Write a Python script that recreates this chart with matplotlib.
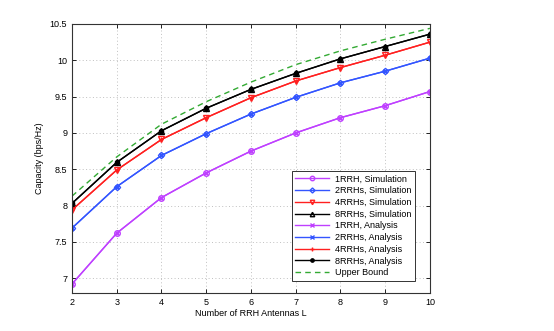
import matplotlib.pyplot as plt

L = [2, 3, 4, 5, 6, 7, 8, 9, 10]

cap_1rrh = [6.92, 7.62, 8.11, 8.45, 8.75, 9.00, 9.21, 9.375, 9.57]
cap_2rrh = [7.69, 8.26, 8.69, 8.99, 9.26, 9.49, 9.69, 9.85, 10.03]
cap_4rrh = [7.94, 8.49, 8.91, 9.21, 9.485, 9.715, 9.90, 10.07, 10.25]
cap_8rrh = [8.03, 8.595, 9.03, 9.34, 9.60, 9.82, 10.02, 10.19, 10.36]
upper_bound = [8.13, 8.67, 9.12, 9.43, 9.70, 9.94, 10.13, 10.29, 10.44]

labels_sim = ["1RRH, Simulation", "2RRHs, Simulation", "4RRHs, Simulation", "8RRHs, Simulation"]
labels_ana = ["1RRH, Analysis", "2RRHs, Analysis", "4RRHs, Analysis", "8RRHs, Analysis"]

plt.rcParams['font.family'] = ['Liberation Sans', 'DejaVu Sans']

fig = plt.figure(figsize=(5.54, 3.31), dpi=100)
ax = fig.add_axes([0.130, 0.1157, 0.646, 0.8118])

colors = ['#bf40ff', '#3355ff', '#ff2020', 'black']
series = [cap_1rrh, cap_2rrh, cap_4rrh, cap_8rrh]
sim_markers = ['o', 'D', 'v', '^']
ana_markers = ['x', 'x', '+', '.']

# simulation curves (hollow markers)
for y, c, m, lab in zip(series, colors, sim_markers, labels_sim):
    ms = 3.2 if m == 'D' else 4
    ax.plot(L, y, color=c, marker=m, markersize=ms, markerfacecolor='none',
            markeredgecolor=c, linewidth=1.0, label=lab)

# analysis curves on top
for y, c, m, lab in zip(series, colors, ana_markers, labels_ana):
    ms = 6 if m == '.' else 3.5
    ax.plot(L, y, color=c, marker=m, markersize=ms, linewidth=1.0, label=lab)

ax.plot(L, upper_bound, color='#33aa33', linestyle='--', dashes=(4, 3), linewidth=1.0, label="Upper Bound")

ax.set_xlim(2, 10)
ax.set_ylim(6.8, 10.5)
ax.set_xticks(L)
ax.set_yticks([7, 7.5, 8, 8.5, 9, 9.5, 10, 10.5])
ax.set_yticklabels(['7', '7.5', '8', '8.5', '9', '9.5', '10', '10.5'])
ax.grid(True, linestyle=(0, (1, 2.5)), color='#c0c0c0', linewidth=0.7)
ax.tick_params(direction='in', top=True, right=True, labelsize=6.5, length=3, width=0.6)
for s in ax.spines.values():
    s.set_linewidth(0.8)
    s.set_color('#333333')

ax.set_xlabel("Number of RRH Antennas L", fontsize=6.5, labelpad=2)
ax.set_ylabel("Capacity (bps/Hz)", fontsize=6.5, labelpad=4)

leg = ax.legend(loc='lower right', bbox_to_anchor=(0.958, 0.044), borderaxespad=0,
                fontsize=6.5, fancybox=False, framealpha=1, edgecolor='#333333',
                handlelength=3.8, labelspacing=0.3, borderpad=0.4, handletextpad=0.6,
                markerscale=0.8)
leg.get_frame().set_linewidth(0.7)

fig.savefig('out.png', dpi=100)
